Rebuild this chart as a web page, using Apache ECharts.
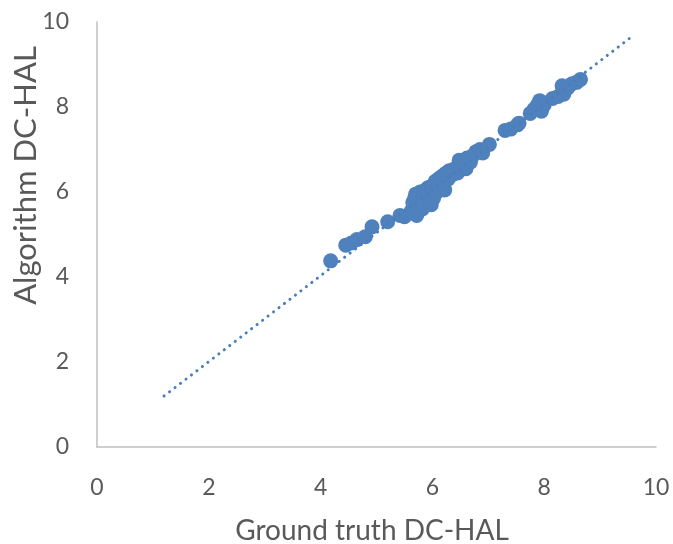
<!DOCTYPE html>
<html>
<head>
<meta charset="utf-8">
<script src="https://cdn.jsdelivr.net/npm/echarts@6/dist/echarts.min.js"></script>
<style>html,body{margin:0;padding:0;background:#fff}#c{width:673px;height:544px}</style>
</head>
<body>
<div id="c"></div>
<script>
const xTicks = [0, 2, 4, 6, 8, 10];
const yTicks = [0, 2, 4, 6, 8, 10];
const groundTruth = [4.18,4.45,4.55,4.65,4.80,4.92,5.20,5.42,5.50,5.62,5.65,5.68,5.70,5.72,5.75,5.78,5.80,5.82,5.85,5.88,5.90,5.92,5.95,5.98,6.00,6.02,6.05,6.08,6.10,6.12,6.15,6.18,6.20,6.22,6.25,6.28,6.30,6.35,6.40,6.45,6.48,6.52,6.55,6.60,6.62,6.68,6.72,6.78,6.85,6.90,7.02,7.30,7.40,7.52,7.55,7.75,7.82,7.88,7.92,7.95,8.00,8.15,8.25,8.32,8.35,8.42,8.50,8.58,8.65];
const algorithm = [4.38,4.75,4.80,4.88,4.95,5.18,5.30,5.45,5.42,5.55,5.75,5.85,5.95,5.45,5.65,6.00,5.80,5.60,5.90,6.05,5.75,6.10,5.95,5.70,6.15,5.85,6.25,6.00,6.30,6.10,6.35,6.20,6.40,6.05,6.45,6.30,6.50,6.40,6.55,6.45,6.75,6.60,6.70,6.55,6.80,6.70,6.85,6.95,7.00,6.92,7.12,7.45,7.48,7.58,7.62,7.85,7.95,8.05,8.15,7.90,8.05,8.20,8.25,8.50,8.30,8.45,8.55,8.58,8.65];
const trendX = [1.2, 9.6];
const trendY = [1.2, 9.69];

const scatterData = groundTruth.map((v, i) => [v, algorithm[i]]);
const trendData = trendX.map((v, i) => [v, trendY[i]]);

const font = 'Lato, "Open Sans", sans-serif';
const chart = echarts.init(document.getElementById('c'));
chart.setOption({
  animation: false,
  grid: { left: 97, right: 17, top: 22, bottom: 97, containLabel: false, outerBoundsMode: 'none' },
  xAxis: {
    type: 'value', min: xTicks[0], max: xTicks[xTicks.length - 1], interval: 2,
    name: 'Ground truth DC-HAL', nameLocation: 'middle', nameGap: 70, nameMoveOverlap: false,
    nameTextStyle: { color: '#595959', fontSize: 28, fontFamily: font, padding: [0, 9, 0, 0] },
    axisLine: { show: true, lineStyle: { color: '#bfbfbf', width: 1.5 } },
    axisTick: { show: false }, splitLine: { show: false },
    axisLabel: { color: '#595959', fontSize: 23, fontFamily: font, margin: 29 }
  },
  yAxis: {
    type: 'value', min: yTicks[0], max: yTicks[yTicks.length - 1], interval: 2,
    name: 'Algorithm DC-HAL', nameLocation: 'middle', nameGap: 56, nameMoveOverlap: false,
    nameTextStyle: { color: '#595959', fontSize: 31, fontFamily: font, padding: [0, 0, 0, 118] },
    axisLine: { show: true, lineStyle: { color: '#bfbfbf', width: 1.5 } },
    axisTick: { show: false }, splitLine: { show: false },
    axisLabel: { color: '#595959', fontSize: 23, fontFamily: font, margin: 28 }
  },
  series: [
    {
      type: 'scatter', data: scatterData, symbolSize: 15,
      itemStyle: { color: '#4f81bd', opacity: 1 }, z: 2
    },
    {
      type: 'line', data: trendData, symbol: 'none', z: 3,
      lineStyle: { color: '#4a7ebb', width: 3, type: [0.1, 6.8], cap: 'round' }
    }
  ]
});
</script>
</body>
</html>
